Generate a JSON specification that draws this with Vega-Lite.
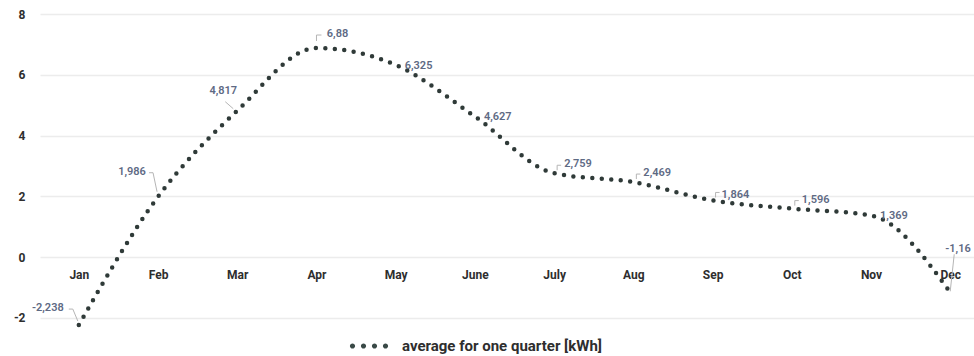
{
  "$schema": "https://vega.github.io/schema/vega-lite/v6.json",
  "width": 934,
  "height": 316,
  "autosize": {"type": "none"},
  "padding": {"left": 40, "top": 14, "right": 0, "bottom": 26},
  "background": "white",
  "config": {
    "view": {"stroke": null},
    "font": "Roboto",
    "locale": {"number": {"decimal": ",", "thousands": ".", "grouping": [3], "currency": ["", ""], "minus": "-"}}
  },
  "data": {
    "values": [
      {"m": 1, "month": "Jan", "value": -2.238, "series": "average for one quarter [kWh]"},
      {"m": 2, "month": "Feb", "value": 1.986, "series": "average for one quarter [kWh]"},
      {"m": 3, "month": "Mar", "value": 4.817, "series": "average for one quarter [kWh]"},
      {"m": 4, "month": "Apr", "value": 6.88, "series": "average for one quarter [kWh]"},
      {"m": 5, "month": "May", "value": 6.325, "series": "average for one quarter [kWh]"},
      {"m": 6, "month": "June", "value": 4.627, "series": "average for one quarter [kWh]"},
      {"m": 7, "month": "July", "value": 2.759, "series": "average for one quarter [kWh]"},
      {"m": 8, "month": "Aug", "value": 2.469, "series": "average for one quarter [kWh]"},
      {"m": 9, "month": "Sep", "value": 1.864, "series": "average for one quarter [kWh]"},
      {"m": 10, "month": "Oct", "value": 1.596, "series": "average for one quarter [kWh]"},
      {"m": 11, "month": "Nov", "value": 1.369, "series": "average for one quarter [kWh]"},
      {"m": 12, "month": "Dec", "value": -1.16, "series": "average for one quarter [kWh]"}
    ]
  },
  "encoding": {
    "x": {
      "field": "m", "type": "quantitative",
      "scale": {"domain": [0.51, 12.3], "nice": false, "zero": false},
      "axis": {
        "values": [1,2,3,4,5,6,7,8,9,10,11,12],
        "labelExpr": "['Jan','Feb','Mar','Apr','May','June','July','Aug','Sep','Oct','Nov','Dec'][datum.value-1]",
        "title": null, "grid": false, "ticks": false, "domain": false,
        "offset": -73, "labelPadding": 12,
        "labelFont": "Roboto", "labelFontSize": 12, "labelFontWeight": "bold", "labelColor": "#2e2e2e"
      }
    },
    "y": {
      "field": "value", "type": "quantitative",
      "scale": {"domain": [-2.4, 8], "nice": false, "zero": false},
      "axis": {
        "values": [-2, 0, 2, 4, 6, 8],
        "title": null, "ticks": false, "domain": false,
        "gridColor": "#ececec", "gridWidth": 1.5,
        "labelPadding": 15, "labelFont": "Roboto", "labelFontSize": 12, "labelFontWeight": "bold", "labelColor": "#2e2e2e"
      }
    }
  },
  "layer": [
    {
      "transform": [{"filter": "datum.month == 'Jan'"}],
      "mark": {"type": "rule", "color": "#b5b5b5", "strokeWidth": 1, "xOffset": -10, "yOffset": -16, "x2Offset": -6, "y2Offset": -16},
      "encoding": {"x2": {"field": "m"}, "y2": {"field": "value"}}
    },
    {
      "transform": [{"filter": "datum.month == 'Jan'"}],
      "mark": {"type": "rule", "color": "#b5b5b5", "strokeWidth": 1, "xOffset": -6, "yOffset": -16, "x2Offset": -1, "y2Offset": -4},
      "encoding": {"x2": {"field": "m"}, "y2": {"field": "value"}}
    },
    {
      "transform": [{"filter": "datum.month == 'Feb'"}],
      "mark": {"type": "rule", "color": "#b5b5b5", "strokeWidth": 1, "xOffset": -9, "yOffset": -24, "x2Offset": -5, "y2Offset": -24},
      "encoding": {"x2": {"field": "m"}, "y2": {"field": "value"}}
    },
    {
      "transform": [{"filter": "datum.month == 'Feb'"}],
      "mark": {"type": "rule", "color": "#b5b5b5", "strokeWidth": 1, "xOffset": -5, "yOffset": -24, "x2Offset": -1, "y2Offset": -5},
      "encoding": {"x2": {"field": "m"}, "y2": {"field": "value"}}
    },
    {
      "transform": [{"filter": "datum.month == 'Mar'"}],
      "mark": {"type": "rule", "color": "#b5b5b5", "strokeWidth": 1, "xOffset": -12, "yOffset": -9, "x2Offset": -4, "y2Offset": -2},
      "encoding": {"x2": {"field": "m"}, "y2": {"field": "value"}}
    },
    {
      "transform": [{"filter": "datum.month == 'Apr'"}],
      "mark": {"type": "rule", "color": "#b5b5b5", "strokeWidth": 1, "xOffset": 0, "yOffset": -7, "x2Offset": 0, "y2Offset": -13},
      "encoding": {"x2": {"field": "m"}, "y2": {"field": "value"}}
    },
    {
      "transform": [{"filter": "datum.month == 'Apr'"}],
      "mark": {"type": "rule", "color": "#b5b5b5", "strokeWidth": 1, "xOffset": 0, "yOffset": -13, "x2Offset": 5, "y2Offset": -13},
      "encoding": {"x2": {"field": "m"}, "y2": {"field": "value"}}
    },
    {
      "transform": [{"filter": "datum.month == 'July' || datum.month == 'Aug' || datum.month == 'Sep' || datum.month == 'Oct'"}],
      "mark": {"type": "rule", "color": "#b5b5b5", "strokeWidth": 1, "xOffset": 3, "yOffset": -3, "x2Offset": 3, "y2Offset": -8},
      "encoding": {"x2": {"field": "m"}, "y2": {"field": "value"}}
    },
    {
      "transform": [{"filter": "datum.month == 'July' || datum.month == 'Aug' || datum.month == 'Sep' || datum.month == 'Oct'"}],
      "mark": {"type": "rule", "color": "#b5b5b5", "strokeWidth": 1, "xOffset": 3, "yOffset": -8, "x2Offset": 7, "y2Offset": -8},
      "encoding": {"x2": {"field": "m"}, "y2": {"field": "value"}}
    },
    {
      "transform": [{"filter": "datum.month == 'Dec'"}],
      "mark": {"type": "rule", "color": "#b5b5b5", "strokeWidth": 1, "xOffset": 4, "yOffset": -38, "x2Offset": 0, "y2Offset": -1},
      "encoding": {"x2": {"field": "m"}, "y2": {"field": "value"}}
    },
    {
      "mark": {"type": "line", "interpolate": "monotone", "strokeWidth": 4.5, "strokeCap": "round", "strokeDash": [0, 9.5]},
      "encoding": {
        "color": {
          "field": "series", "type": "nominal",
          "scale": {"range": ["#2f3a38"]},
          "legend": {
            "title": null, "orient": "none", "legendX": 309, "legendY": 312,
            "symbolType": "M-0.695,0A0.13,0.13 0 1,1 -0.955,0A0.13,0.13 0 1,1 -0.695,0ZM-0.145,0A0.13,0.13 0 1,1 -0.405,0A0.13,0.13 0 1,1 -0.145,0ZM0.405,0A0.13,0.13 0 1,1 0.145,0A0.13,0.13 0 1,1 0.405,0ZM0.955,0A0.13,0.13 0 1,1 0.695,0A0.13,0.13 0 1,1 0.955,0Z",
            "symbolSize": 1600,
            "labelLimit": 0,
            "labelFont": "Roboto", "labelFontSize": 15, "labelFontWeight": "bold", "labelColor": "#2e2e2e", "labelOffset": 13,
            "encode": {"symbols": {"update": {"fill": {"value": "#3a4a47"}, "stroke": {"value": "transparent"}, "strokeWidth": {"value": 0}, "strokeDash": {"value": []}}}}
          }
        }
      }
    },
    {
      "transform": [{"filter": "datum.month == 'Jan'"}],
      "mark": {"type": "text", "dx": -31, "dy": -17, "fontSize": 11, "fontWeight": 600, "color": "#5e6a84"},
      "encoding": {"text": {"field": "value", "type": "quantitative", "format": ".4~r"}}
    },
    {
      "transform": [{"filter": "datum.month == 'Feb'"}],
      "mark": {"type": "text", "dx": -26, "dy": -25, "fontSize": 11, "fontWeight": 600, "color": "#5e6a84"},
      "encoding": {"text": {"field": "value", "type": "quantitative", "format": ".4~r"}}
    },
    {
      "transform": [{"filter": "datum.month == 'Mar'"}],
      "mark": {"type": "text", "dx": -14, "dy": -20, "fontSize": 11, "fontWeight": 600, "color": "#5e6a84"},
      "encoding": {"text": {"field": "value", "type": "quantitative", "format": ".4~r"}}
    },
    {
      "transform": [{"filter": "datum.month == 'Apr'"}],
      "mark": {"type": "text", "dx": 21, "dy": -14, "fontSize": 11, "fontWeight": 600, "color": "#5e6a84"},
      "encoding": {"text": {"field": "value", "type": "quantitative", "format": ".4~r"}}
    },
    {
      "transform": [{"filter": "datum.month == 'Dec'"}],
      "mark": {"type": "text", "align": "left", "dx": -5, "dy": -43, "fontSize": 11, "fontWeight": 600, "color": "#5e6a84"},
      "encoding": {"text": {"field": "value", "type": "quantitative", "format": ".4~r"}}
    },
    {
      "transform": [{"filter": "datum.month == 'May' || datum.month == 'June' || datum.month == 'Nov'"}],
      "mark": {"type": "text", "align": "left", "dx": 9, "dy": 1, "fontSize": 11, "fontWeight": 600, "color": "#5e6a84"},
      "encoding": {"text": {"field": "value", "type": "quantitative", "format": ".4~r"}}
    },
    {
      "transform": [{"filter": "datum.month == 'July' || datum.month == 'Aug' || datum.month == 'Oct'"}],
      "mark": {"type": "text", "align": "left", "dx": 10, "dy": -9, "fontSize": 11, "fontWeight": 600, "color": "#5e6a84"},
      "encoding": {"text": {"field": "value", "type": "quantitative", "format": ".4~r"}}
    },
    {
      "transform": [{"filter": "datum.month == 'Sep'"}],
      "mark": {"type": "text", "align": "left", "dx": 9, "dy": -5, "fontSize": 11, "fontWeight": 600, "color": "#5e6a84"},
      "encoding": {"text": {"field": "value", "type": "quantitative", "format": ".4~r"}}
    }
  ]
}
